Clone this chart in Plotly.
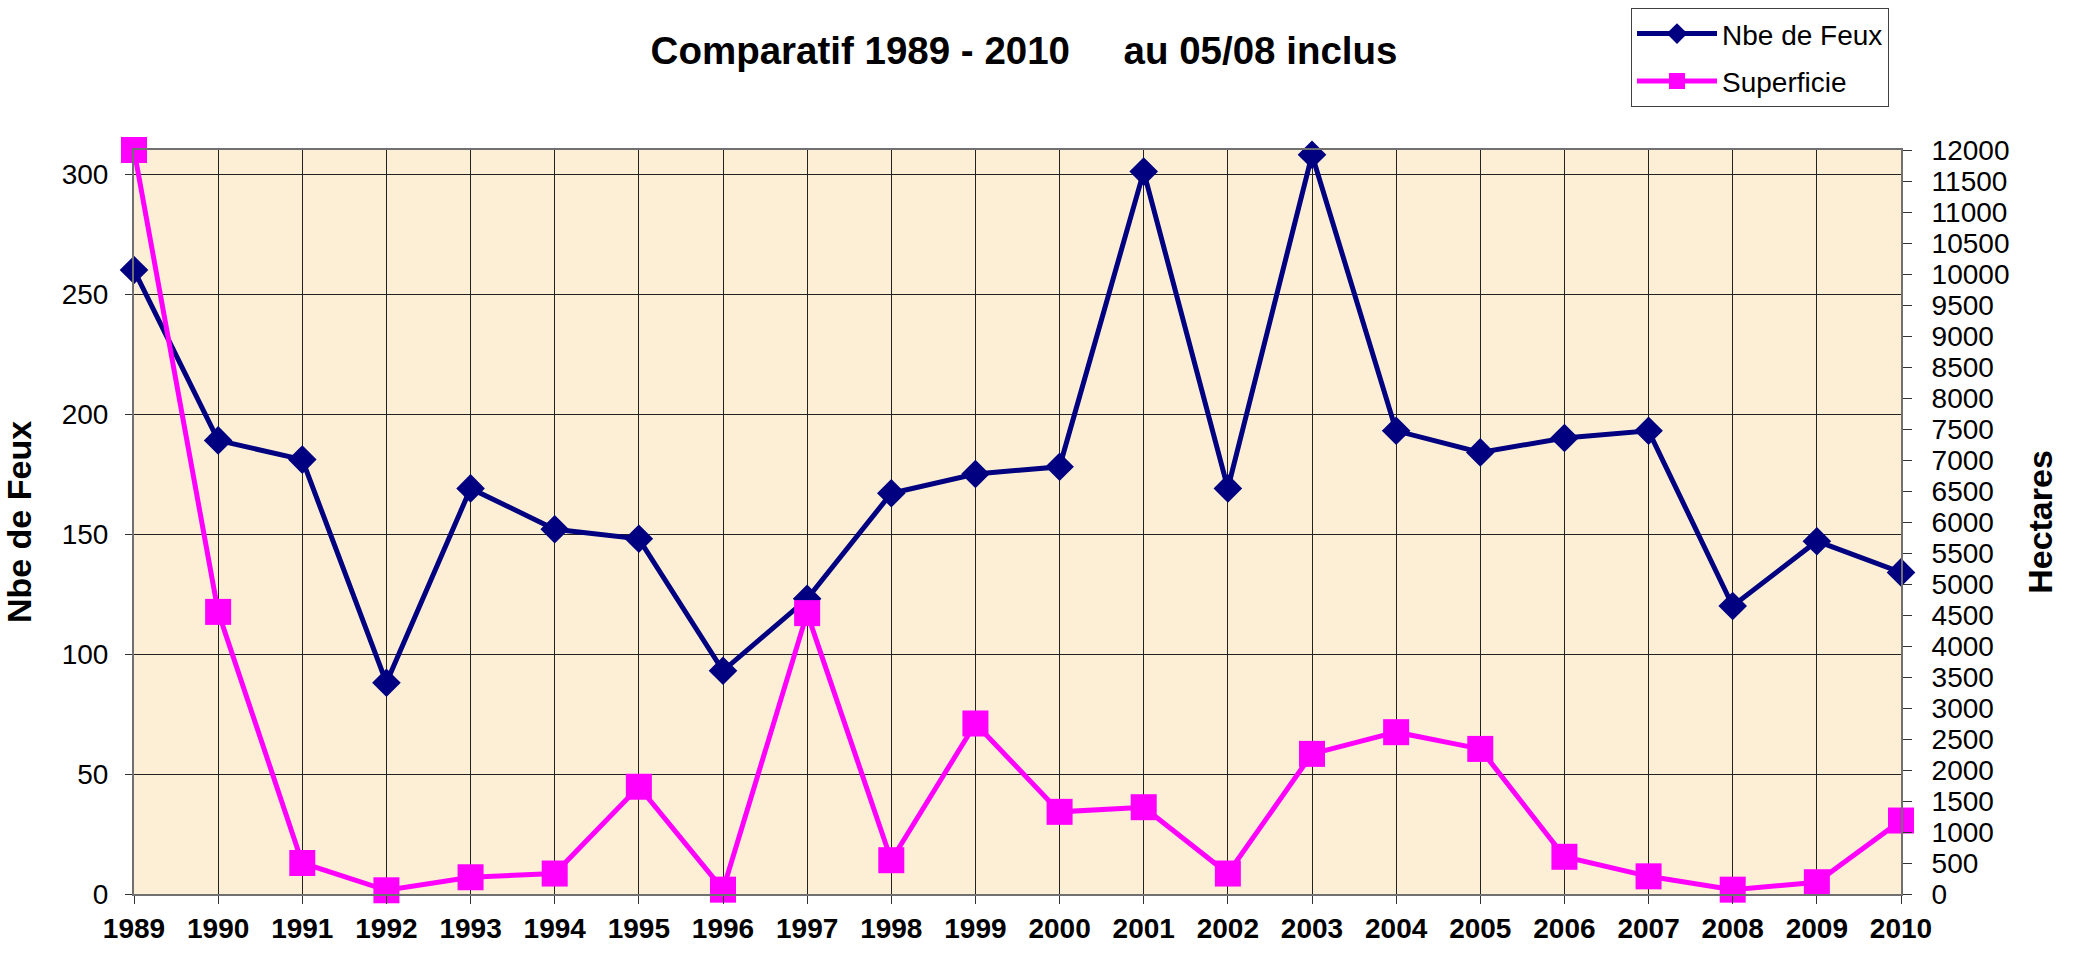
import plotly.graph_objects as go

years = list(range(1989, 2011))
nbe_feux = [260, 189, 181, 88, 169, 152, 148, 93, 123, 167, 175, 178, 301, 169,
            308, 193, 184, 190, 193, 120, 147, 134]
superficie = [12000, 4550, 500, 60, 270, 330, 1730, 70, 4530, 545, 2750, 1325, 1400, 330,
              2260, 2610, 2340, 600, 285, 70, 190, 1185]

title_text = "Comparatif 1989 - 2010\u00a0\u00a0\u00a0\u00a0\u00a0au 05/08 inclus"
FONT = "Liberation Sans, Arial, sans-serif"
NAVY = "#000080"
PINK = "#FF00FF"

fig = go.Figure()
fig.add_trace(go.Scatter(
    x=years, y=nbe_feux, name="Nbe de Feux", mode="lines+markers",
    line=dict(color=NAVY, width=5),
    marker=dict(symbol="diamond", size=22, color=NAVY),
    cliponaxis=False, legendgroup="a", yaxis="y"))
fig.add_trace(go.Scatter(
    x=years, y=superficie, name="Superficie", mode="lines+markers",
    line=dict(color=PINK, width=5),
    marker=dict(symbol="square", size=26, color=PINK),
    cliponaxis=False, legendgroup="b", yaxis="y2"))

fig.update_layout(
    width=2078, height=953,
    margin=dict(l=134, r=177, t=150, b=59, pad=0, autoexpand=False),
    paper_bgcolor="white",
    plot_bgcolor="#FCEFD6",
    font=dict(family=FONT, size=28, color="black"),
    title=dict(text="<b>" + title_text + "</b>", font=dict(size=38.5, family=FONT),
               x=0.5037, xref="paper", xanchor="center",
               y=1 - 51 / 953, yref="container", yanchor="middle"),
    showlegend=True,
    legend=dict(x=0.8472, y=1.191, xanchor="left", yanchor="top",
                bgcolor="white", bordercolor="#404040", borderwidth=1,
                font=dict(size=28, family=FONT), tracegroupgap=8,
                itemwidth=80, traceorder="grouped"),
    xaxis=dict(
        range=[1989, 2010], tickmode="array", tickvals=years,
        ticktext=[f"<b>{y}</b>" for y in years],
        showgrid=True, gridcolor="#222222", gridwidth=1,
        showline=True, linecolor="#707070", linewidth=2, mirror=True,
        ticks="outside", ticklen=8, tickcolor="#333333",
        tickfont=dict(size=28, family=FONT), ticklabelstandoff=0,
        zeroline=False),
    yaxis=dict(
        range=[0, 310], tickmode="linear", tick0=0, dtick=50,
        showgrid=True, gridcolor="#222222", gridwidth=1,
        showline=True, linecolor="#707070", linewidth=2,
        ticks="outside", ticklen=7, tickcolor="#333333",
        tickfont=dict(size=28, family=FONT), ticklabelstandoff=11,
        zeroline=False,
        title=dict(text="<b>Nbe de Feux</b>", font=dict(size=34, family=FONT), standoff=24)),
    yaxis2=dict(
        range=[0, 12000], tickmode="linear", tick0=0, dtick=500, tickformat="d",
        overlaying="y", side="right", showgrid=False,
        showline=True, linecolor="#707070", linewidth=2,
        ticks="outside", ticklen=9, tickcolor="#333333",
        tickfont=dict(size=28, family=FONT), ticklabelstandoff=14,
        zeroline=False,
        title=dict(text="<b>Hectares</b>", font=dict(size=34, family=FONT), standoff=20)),
)

fig.write_html("out.html", config={"displayModeBar": False},
               post_script="document.body.style.margin='0';")
